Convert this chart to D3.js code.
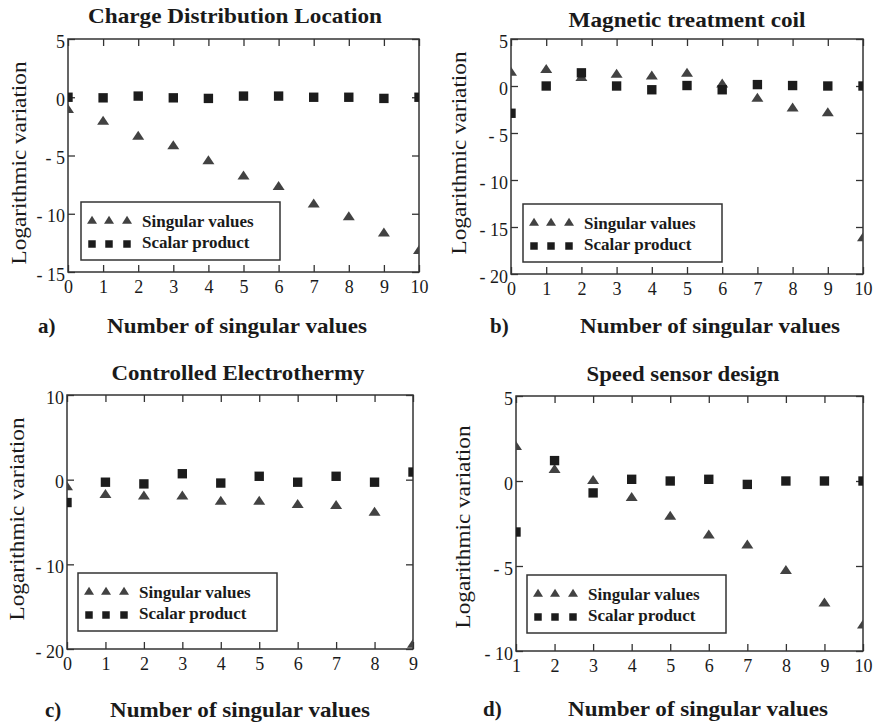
<!DOCTYPE html>
<html>
<head>
<meta charset="utf-8">
<script src="https://cdn.jsdelivr.net/npm/d3@7"></script>
<style>
  body { margin: 0; background: #fff; }
  svg { display: block; }
  text { font-family: 'Liberation Serif', 'Times New Roman', serif; fill: #1a1a1a; }
  .tick line { stroke: #333; stroke-width: 1.3; }
  .tick text { font-size: 18px; }
</style>
</head>
<body>
<svg width="879" height="724"></svg>
<script>
var svg = d3.select('svg');

// a) Charge Distribution Location
const xValsA = [0, 1, 2, 3, 4, 5, 6, 7, 8, 9, 10];
const singularA = [-1.1, -2.1, -3.4, -4.2, -5.5, -6.8, -7.7, -9.2, -10.3, -11.7, -13.2];
const scalarA = [0, -0.05, 0.1, -0.05, -0.1, 0.1, 0.1, 0, 0, -0.1, 0];
const yTicksA = [5, 0, -5, -10, -15];

// b) Magnetic treatment coil
const xValsB = [0, 1, 2, 3, 4, 5, 6, 7, 8, 9, 10];
const singularB = [1.4, 1.7, 0.85, 1.2, 1.0, 1.3, 0.15, -1.35, -2.4, -2.9, -16.2];
const scalarB = [-2.9, 0, 1.4, 0, -0.4, 0.05, -0.4, 0.15, 0.05, 0, 0];
const yTicksB = [5, 0, -5, -10, -15, -20];

// c) Controlled Electrothermy
const xValsC = [0, 1, 2, 3, 4, 5, 6, 7, 8, 9];
const singularC = [-0.9, -1.8, -2.0, -2.0, -2.6, -2.6, -3.0, -3.1, -3.9, -19.5];
const scalarC = [-2.7, -0.3, -0.5, 0.7, -0.4, 0.4, -0.3, 0.4, -0.3, 0.9];
const yTicksC = [10, 0, -10, -20];

// d) Speed sensor design
const xValsD = [1, 2, 3, 4, 5, 6, 7, 8, 9, 10];
const singularD = [2.0, 0.65, 0, -1.0, -2.1, -3.2, -3.8, -5.3, -7.2, -8.5];
const scalarD = [-3.0, 1.2, -0.7, 0.1, 0, 0.1, -0.2, 0, 0, 0];
const yTicksD = [5, 0, -5, -10];

const titles = ['Charge Distribution Location', 'Magnetic treatment coil', 'Controlled Electrothermy', 'Speed sensor design'];
const letters = ['a)', 'b)', 'c)', 'd)'];
const legendNames = ['Singular values', 'Scalar product'];
const xLabel = 'Number of singular values';
const yLabel = 'Logarithmic variation';

const panels = [
    { xs: xValsA, sv: singularA, sp: scalarA, yt: yTicksA, box: [68, 39, 419, 272],
      title: [235, 23, 294], ylab: [26, 163], bot: [38, 107, 333], leg: [81, 202] },
    { xs: xValsB, sv: singularB, sp: scalarB, yt: yTicksB, box: [511, 39, 863, 274],
      title: [687, 27, 237], ylab: [466, 153], bot: [490, 580, 333], leg: [523, 204] },
    { xs: xValsC, sv: singularC, sp: scalarC, yt: yTicksC, box: [67, 395, 413, 649],
      title: [238, 380, 253], ylab: [24, 519], bot: [45, 110, 717], leg: [78, 573] },
    { xs: xValsD, sv: singularD, sp: scalarD, yt: yTicksD, box: [516, 396, 863, 651],
      title: [683, 381, 193], ylab: [470, 527], bot: [483, 568, 716], leg: [527, 575] }
];

// flat triangle marker (wider than tall, like the reference)
function flatTriangle(w, h) {
    return {
        draw: function(context) {
            context.moveTo(0, -h * 2 / 3);
            context.lineTo(w / 2, h / 3);
            context.lineTo(-w / 2, h / 3);
            context.closePath();
        }
    };
}

function yFormat(v) {
    return v < 0 ? '- ' + Math.abs(v) : String(v);
}

function drawPanel(p, i) {
    let [x0, y0, x1, y1] = p.box;
    let x = d3.scaleLinear().domain([p.xs[0], p.xs[p.xs.length - 1]]).range([x0, x1]);
    let y = d3.scaleLinear().domain([p.yt[p.yt.length - 1], p.yt[0]]).range([y1, y0]);
    let g = svg.append('g').attr('class', 'panel');

    // title
    g.append('text')
        .attr('x', p.title[0]).attr('y', p.title[1])
        .attr('text-anchor', 'middle')
        .attr('font-size', 22).attr('font-weight', 'bold')
        .attr('textLength', p.title[2]).attr('lengthAdjust', 'spacingAndGlyphs')
        .text(titles[i]);

    // axes, ticks pointing inward on all four sides
    g.append('g').attr('transform', 'translate(0,' + y1 + ')')
        .call(d3.axisBottom(x).tickValues(p.xs).tickSize(-7).tickSizeOuter(0).tickPadding(8))
        .call(a => a.select('.domain').remove());
    g.append('g').attr('transform', 'translate(0,' + y0 + ')')
        .call(d3.axisTop(x).tickValues(p.xs).tickSize(-7).tickSizeOuter(0).tickFormat(''))
        .call(a => a.select('.domain').remove());
    g.append('g').attr('transform', 'translate(' + x0 + ',0)')
        .call(d3.axisLeft(y).tickValues(p.yt).tickSize(-7).tickSizeOuter(0).tickPadding(3).tickFormat(yFormat))
        .call(a => a.select('.domain').remove())
        .call(a => a.selectAll('text').attr('dy', '0.45em'));
    g.append('g').attr('transform', 'translate(' + x1 + ',0)')
        .call(d3.axisRight(y).tickValues(p.yt).tickSize(-7).tickSizeOuter(0).tickFormat(''))
        .call(a => a.select('.domain').remove());
    g.selectAll('.tick text').attr('fill', '#222').attr('font-family', "'Liberation Serif', serif");

    g.append('rect')
        .attr('x', x0).attr('y', y0)
        .attr('width', x1 - x0).attr('height', y1 - y0)
        .attr('fill', 'none').attr('stroke', '#333').attr('stroke-width', 1.5);

    // y label
    g.append('text')
        .attr('transform', 'translate(' + p.ylab[0] + ',' + p.ylab[1] + ') rotate(-90)')
        .attr('text-anchor', 'middle')
        .attr('font-size', 22)
        .attr('textLength', 203).attr('lengthAdjust', 'spacingAndGlyphs')
        .text(yLabel);

    // bottom caption
    g.append('text')
        .attr('x', p.bot[0]).attr('y', p.bot[2])
        .attr('font-size', 21).attr('font-weight', 'bold')
        .text(letters[i]);
    g.append('text')
        .attr('x', p.bot[1]).attr('y', p.bot[2])
        .attr('font-size', 22).attr('font-weight', 'bold')
        .attr('textLength', 260).attr('lengthAdjust', 'spacingAndGlyphs')
        .text(xLabel);

    // points, clipped to the plot box
    let clipId = 'clip' + i;
    g.append('clipPath').attr('id', clipId)
        .append('rect').attr('x', x0).attr('y', y0).attr('width', x1 - x0).attr('height', y1 - y0);
    let marks = g.append('g').attr('clip-path', 'url(#' + clipId + ')');

    marks.selectAll('.tri').data(p.xs).enter().append('path')
        .attr('class', 'tri')
        .attr('d', d3.symbol(flatTriangle(12, 9)))
        .attr('transform', (d, j) => 'translate(' + x(d) + ',' + y(p.sv[j]) + ')')
        .attr('fill', '#424242');
    marks.selectAll('.sq').data(p.xs).enter().append('path')
        .attr('class', 'sq')
        .attr('d', d3.symbol(d3.symbolSquare).size(88))
        .attr('transform', (d, j) => 'translate(' + x(d) + ',' + y(p.sp[j]) + ')')
        .attr('fill', '#1c1c1c');

    // legend
    let lx = p.leg[0], ly = p.leg[1];
    let leg = g.append('g').attr('transform', 'translate(' + lx + ',' + ly + ')');
    leg.append('rect')
        .attr('width', 199).attr('height', 58)
        .attr('fill', '#fff').attr('stroke', '#333').attr('stroke-width', 1.5);
    [11, 28, 46].forEach(function(dx) {
        leg.append('path')
            .attr('d', d3.symbol(flatTriangle(10, 8)))
            .attr('transform', 'translate(' + dx + ',19)')
            .attr('fill', '#424242');
        leg.append('path')
            .attr('d', d3.symbol(d3.symbolSquare).size(56))
            .attr('transform', 'translate(' + dx + ',42)')
            .attr('fill', '#1c1c1c');
    });
    legendNames.forEach(function(name, k) {
        leg.append('text')
            .attr('x', 61).attr('y', 25 + k * 21)
            .attr('font-size', 17).attr('font-weight', 'bold')
            .text(name);
    });
}

panels.forEach(drawPanel);
</script>
</body>
</html>
